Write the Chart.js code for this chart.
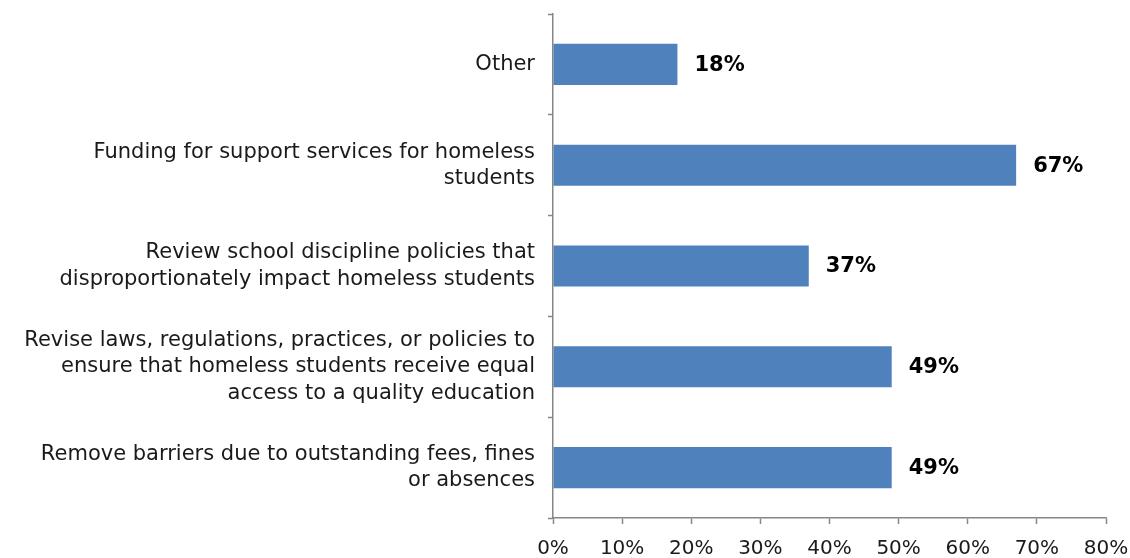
<!DOCTYPE html>
<html lang="en">
<head>
<meta charset="UTF-8">
<title>Homeless students - priorities</title>
<script src="https://cdn.jsdelivr.net/npm/chart.js"></script>
<style>
  html, body { margin: 0; padding: 0; background: #fff; }
  #wrap { width: 1130px; height: 558px; }
</style>
</head>
<body>
<div id="wrap"><canvas id="chart" width="1130" height="558"></canvas></div>
<script>
// categories, top to bottom
var categories = [
  ['Other'],
  ['Funding for support services for homeless', 'students'],
  ['Review school discipline policies that', 'disproportionately impact homeless students'],
  ['Revise laws, regulations, practices, or policies to', 'ensure that homeless students receive equal', 'access to a quality education'],
  ['Remove barriers due to outstanding fees, fines', 'or absences']
];
var percents = [18, 67, 37, 49, 49];
var xTicks = [0, 10, 20, 30, 40, 50, 60, 70, 80];

var FONT = '"DejaVu Sans", "Liberation Sans", sans-serif';
var AXIS_GRAY = '#868686';

// value labels at the end of each bar
var valueLabels = {
  id: 'valueLabels',
  afterDatasetsDraw: function (chart) {
    var ctx = chart.ctx;
    var meta = chart.getDatasetMeta(0);
    ctx.save();
    ctx.font = 'bold 21px ' + FONT;
    ctx.fillStyle = '#000';
    ctx.textAlign = 'left';
    ctx.textBaseline = 'middle';
    meta.data.forEach(function (bar, i) {
      ctx.fillText(percents[i] + '%', bar.x + 17, bar.y + 1);
    });
    ctx.restore();
  }
};

// keep the plot area fixed: drop the label overhang padding
function noOverhang(scale) {
  scale.paddingTop = 0;
  scale.paddingBottom = 0;
  scale.paddingLeft = 0;
  scale.paddingRight = 0;
}

new Chart(document.getElementById('chart'), {
  type: 'bar',
  data: {
    labels: categories,
    datasets: [{
      data: percents,
      backgroundColor: '#4F81BD',
      borderWidth: 0,
      barPercentage: 0.51,
      categoryPercentage: 0.8
    }]
  },
  options: {
    indexAxis: 'y',
    responsive: false,
    animation: false,
    layout: { padding: { top: 14, right: 24, left: 0, bottom: 0 } },
    plugins: {
      legend: { display: false },
      tooltip: { enabled: false }
    },
    scales: {
      x: {
        min: 0,
        max: 80,
        afterBuildTicks: function (scale) {
          scale.ticks = xTicks.map(function (v) { return { value: v }; });
        },
        afterFit: function (scale) {
          noOverhang(scale);
          scale.height = 40;
        },
        border: { display: true, color: AXIS_GRAY, width: 1.5 },
        grid: {
          drawOnChartArea: false,
          drawTicks: true,
          tickLength: 6,
          tickColor: AXIS_GRAY,
          tickWidth: 1.5
        },
        ticks: {
          padding: 13,
          color: '#1a1a1a',
          font: { family: FONT, size: 20 },
          maxRotation: 0,
          autoSkip: false,
          callback: function (v) { return v + '%'; }
        }
      },
      y: {
        afterFit: function (scale) {
          noOverhang(scale);
          scale.width = 553;
        },
        border: { display: true, color: AXIS_GRAY, width: 1.5 },
        grid: {
          offset: true,
          drawOnChartArea: false,
          drawTicks: true,
          tickLength: 5,
          tickColor: AXIS_GRAY,
          tickWidth: 1.5
        },
        ticks: {
          padding: 13,
          color: '#1a1a1a',
          font: { family: FONT, size: 21, lineHeight: 1.25 },
          autoSkip: false
        }
      }
    }
  },
  plugins: [valueLabels]
});
</script>
</body>
</html>
